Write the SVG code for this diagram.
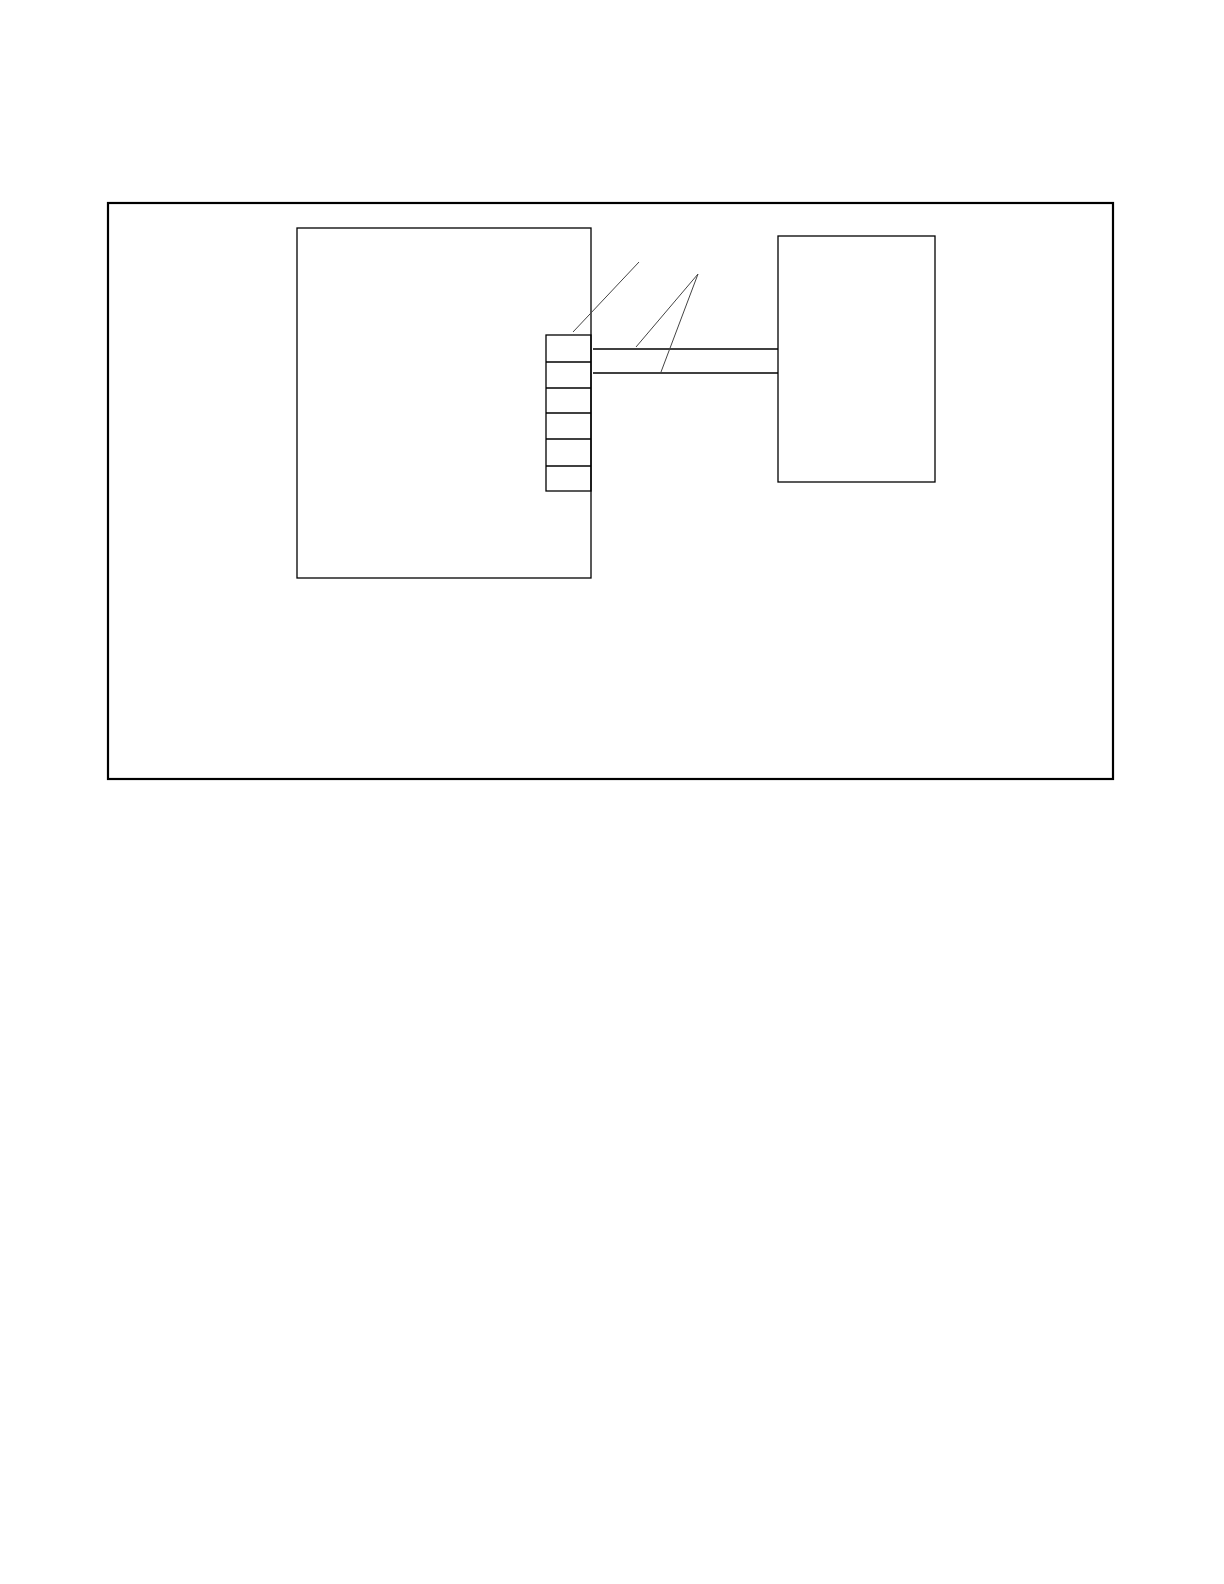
<svg xmlns="http://www.w3.org/2000/svg" width="1224" height="1584" viewBox="0 0 1224 1584">
<style>
.b{fill:none;stroke:#000;stroke-width:1.3}
.f{fill:none;stroke:#000;stroke-width:2.2}
.l{fill:none;stroke:#444;stroke-width:1}
</style>
<rect width="1224" height="1584" fill="#fff"/>
<g id="frame"><rect class="f" x="108" y="203" width="1005" height="576"/></g>
<g id="left-box"><rect class="b" x="297" y="228" width="294" height="350"/></g>
<g id="terminal-block">
<rect class="b" x="546" y="335" width="45" height="156"/>
<line class="b" x1="546" y1="362" x2="591" y2="362"/>
<line class="b" x1="546" y1="388" x2="591" y2="388"/>
<line class="b" x1="546" y1="413" x2="591" y2="413"/>
<line class="b" x1="546" y1="439" x2="591" y2="439"/>
<line class="b" x1="546" y1="466" x2="591" y2="466"/>
</g>
<g id="right-box"><rect class="b" x="778" y="236" width="157" height="246"/></g>
<g id="connectors">
<line class="b" x1="593" y1="349" x2="778" y2="349"/>
<line class="b" x1="593" y1="373" x2="778" y2="373"/>
<line class="l" x1="639" y1="262" x2="573" y2="332"/>
<line class="l" x1="698" y1="274" x2="636" y2="347"/>
<line class="l" x1="698" y1="274" x2="661" y2="372"/>
</g>
</svg>
